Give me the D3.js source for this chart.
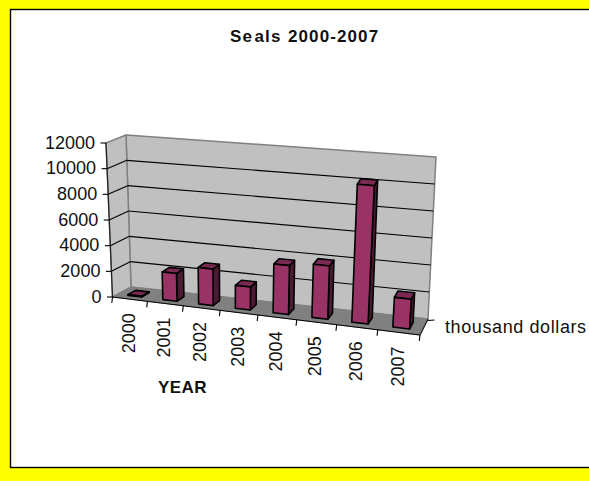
<!DOCTYPE html>
<html><head><meta charset="utf-8">
<script src="https://cdn.jsdelivr.net/npm/d3@7"></script>
<style>html,body{margin:0;padding:0;background:#fff}svg{display:block}text{font-family:"Liberation Sans",Arial,sans-serif;fill:#111}</style>
</head><body><svg id="c" width="589" height="486"></svg>
<script>
const years = ["2000","2001","2002","2003","2004","2005","2006","2007"];
const values = [60,2150,2800,1750,3700,4000,10300,2200];
const yTicks = [0,2000,4000,6000,8000,10000,12000];
const titleParts = ["Se","als ","2000-2007"];
const xTitle = "YEAR";
const depthLabel = "thousand dollars";

const svg = d3.select("#c");
svg.append("rect").attr("x",0).attr("y",0).attr("width",589).attr("height",481).attr("fill","#ffff00");
svg.append("rect").attr("x",10.5).attr("y",9.5).attr("width",590).attr("height",458).attr("fill","#fff").attr("stroke","#000").attr("stroke-width",1.4);

// corners of the 3D box: front/back, bottom/top
const A=[112.5,297],B=[420,335],C=[131,287],D=[428,319];
const G=[106,143],H=[431,172],E=[126,135],F=[436,157];
const lerp=(p,q,t)=>[p[0]+(q[0]-p[0])*t,p[1]+(q[1]-p[1])*t];
const K=1.115;
const warp=u=>u/(u+K*(1-u));
function P(u,v,h){
  const w=warp(u);
  const bot=lerp(lerp(A,B,w),lerp(C,D,w),v);
  const top=lerp(lerp(G,H,w),lerp(E,F,w),v);
  return lerp(bot,top,h);
}
const yS=d3.scaleLinear().domain([0,12000]).range([0,1]);
const xS=d3.scaleBand().domain(years).range([0,1]).paddingInner(0.6).paddingOuter(0.3);
const xC=d3.scalePoint().domain(d3.range(years.length+1)).range([0,1]);
const poly=(pts,fill,stroke,sw)=>svg.append("polygon").attr("points",pts.map(p=>p.join(",")).join(" "))
  .attr("fill",fill).attr("stroke",stroke||"none").attr("stroke-width",sw||1).attr("stroke-linejoin","round");
const line=(p,q,c,sw)=>svg.append("line").attr("x1",p[0]).attr("y1",p[1]).attr("x2",q[0]).attr("y2",q[1]).attr("stroke",c).attr("stroke-width",sw||1);

// walls and floor
poly([C,D,F,E],"#c0c0c0","#808080",1.5);
poly([A,C,E,G],"#c0c0c0","#808080",1.5);
poly([A,B,D,C],"#808080","#808080",1);

// gridlines
yTicks.slice(1,-1).forEach(t=>{
  const h=yS(t);
  line(P(0,0,h),P(0,1,h),"#000",1.1);
  line(P(0,1,h),P(1,1,h),"#000",1.1);
});

// axes
line(A,G,"#222",1.2);
line(A,B,"#000",1.2);
line(B,D,"#222",1.2);
yTicks.forEach(t=>{
  const p=P(0,0,yS(t));
  line(p,[p[0]-5.5,p[1]],"#000",1.1);
  svg.append("text").attr("x",p[0]-11).attr("y",p[1]-1+6.5).attr("text-anchor","end")
    .attr("font-size",18).text(t);
});
xC.domain().forEach(i=>{
  const p=P(xC(i),0,0);
  line(p,[p[0]-0.7,p[1]+6],"#000",1.1);
});
line([D[0],D[1]+1.5],[D[0]+6.5,D[1]+1],"#000",1.1);

// bars
years.forEach((y,i)=>{
  const u0=xS(y),u1=u0+xS.bandwidth(),v0=0.28,v1=0.7,h=yS(values[i]);
  poly([P(u1,v0,0),P(u1,v1,0),P(u1,v1,h),P(u1,v0,h)],"#4d1a33","#000",1.6);
  poly([P(u0,v0,h),P(u1,v0,h),P(u1,v1,h),P(u0,v1,h)],"#7a2952","#000",1.6);
  poly([P(u0,v0,0),P(u1,v0,0),P(u1,v0,h),P(u0,v0,h)],"#993366","#000",1.6);
});

// category labels
years.forEach((y,i)=>{
  const u=(xC(i)+xC(i+1))/2, p=P(u,0,0);
  svg.append("text").attr("transform",`translate(${p[0]-1.5},${p[1]+14}) rotate(-90)`)
    .attr("text-anchor","end").attr("dy","0.35em").attr("font-size",18).text(y);
});

const title=svg.append("text").attr("x",230).attr("y",41.5).attr("font-size",17).attr("font-weight","bold").attr("letter-spacing",1.1);
title.append("tspan").text(titleParts[0]);
title.append("tspan").attr("dx",1.5).text(titleParts[1]);
title.append("tspan").attr("x",288).text(titleParts[2]);
svg.append("text").attr("x",158).attr("y",393).attr("font-size",17).attr("font-weight","bold").attr("letter-spacing",0.4).text(xTitle);
svg.append("text").attr("x",445).attr("y",333).attr("font-size",18).attr("letter-spacing",0.6).text(depthLabel);
</script></body></html>
